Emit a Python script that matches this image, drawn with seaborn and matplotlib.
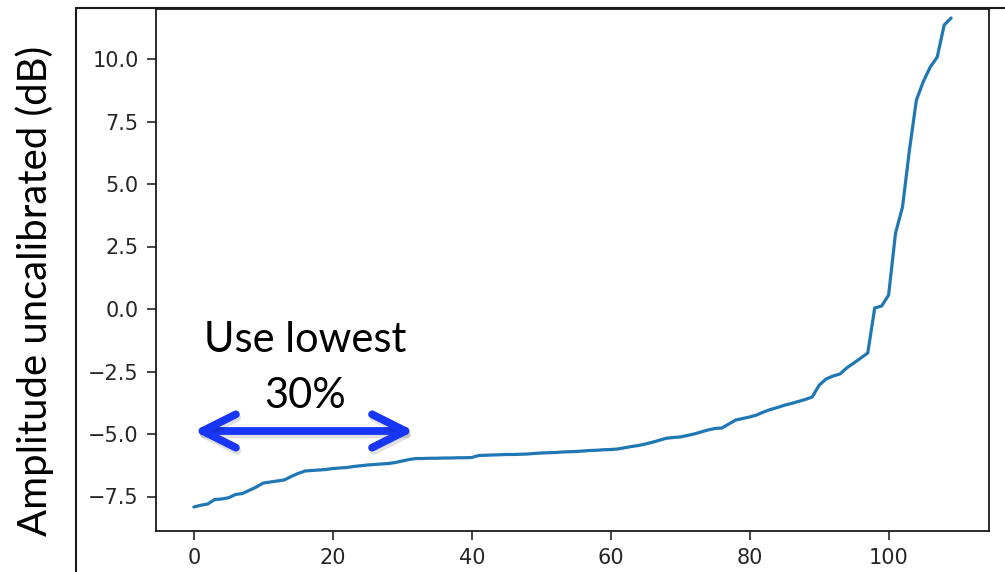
import matplotlib
matplotlib.use("Agg")
import matplotlib.pyplot as plt
import matplotlib.patheffects as pe
from matplotlib.lines import Line2D
import numpy as np
import pandas as pd
import seaborn as sns

# ---- data ----
amplitude_db = [
    -7.92, -7.85, -7.80, -7.62, -7.60, -7.55, -7.42, -7.38, -7.25, -7.12,
    -6.96, -6.92, -6.88, -6.84, -6.70, -6.58, -6.48, -6.46, -6.44, -6.42,
    -6.38, -6.36, -6.34, -6.30, -6.27, -6.24, -6.22, -6.20, -6.18, -6.14,
    -6.08, -6.02, -5.98, -5.98, -5.97, -5.97, -5.96, -5.96, -5.95, -5.95,
    -5.94, -5.86, -5.85, -5.84, -5.83, -5.82, -5.82, -5.81, -5.80, -5.78,
    -5.76, -5.75, -5.74, -5.72, -5.71, -5.70, -5.68, -5.66, -5.65, -5.63,
    -5.62, -5.60, -5.55, -5.50, -5.46, -5.40, -5.33, -5.25, -5.17, -5.14,
    -5.12, -5.06, -5.00, -4.92, -4.84, -4.78, -4.76, -4.60, -4.44, -4.38,
    -4.32, -4.24, -4.12, -4.02, -3.94, -3.85, -3.78, -3.70, -3.62, -3.52,
    -3.05, -2.80, -2.68, -2.60, -2.35, -2.16, -1.96, -1.76, 0.04, 0.12,
    0.56, 3.04, 4.08, 6.36, 8.36, 9.10, 9.68, 10.08, 11.36, 11.64,
]
index = list(range(len(amplitude_db)))
y_label = "Amplitude uncalibrated (dB)"
note_line1 = "Use lowest"
note_line2 = "30%"
arrow_span = [0.0, 31.7]
arrow_level = -4.88

df = pd.DataFrame({"index": index, "amp": amplitude_db})

sns.set_style("ticks")
plt.rcParams["font.family"] = ["DejaVu Sans"]

W, H = 1005, 572
fig = plt.figure(figsize=(W / 100, H / 100), dpi=100)
ax = fig.add_axes([156 / W, 1 - 531 / H, (989 - 156) / W, (531 - 9) / H])

sns.lineplot(data=df, x="index", y="amp", ax=ax, color="#1f77b4", linewidth=2.3)

ax.set_xlim(-5.45, 114.45)
ax.set_ylim(-8.88, 12.0)
ax.set_xticks([0, 20, 40, 60, 80, 100])
ax.set_yticks([-7.5, -5.0, -2.5, 0.0, 2.5, 5.0, 7.5, 10.0])
ax.set_yticklabels(["\u22127.5", "\u22125.0", "\u22122.5", "0.0", "2.5", "5.0", "7.5", "10.0"])
ax.tick_params(axis="both", labelsize=15, length=6.5, width=1.2, colors="#262626",
               direction="out", pad=6)
for s in ax.spines.values():
    s.set_visible(True)
    s.set_color("#1a1a1a")
    s.set_linewidth(1.3)

ax.set_xlabel("")
ax.set_ylabel(y_label, family=["Lato", "DejaVu Sans"], fontsize=28.8, color="black")
ax.yaxis.set_label_coords((54 - 156) / (989 - 156), 1 - (291 - 9) / (531 - 9))

# annotation arrow with soft shadow
ax.annotate("", xy=(arrow_span[0], arrow_level), xytext=(arrow_span[1], arrow_level),
            arrowprops=dict(arrowstyle="<->,head_length=2.4,head_width=1.2",
                            mutation_scale=10,
                            color="#1836f5", lw=5.6, capstyle="round", joinstyle="round",
                            shrinkA=0, shrinkB=0,
                            path_effects=[pe.SimpleLineShadow(offset=(1, -2.5), alpha=0.12,
                                                              shadow_color="black"),
                                          pe.Normal()]))
ax.text(16.0, -1.72, note_line1, ha="center", va="baseline", fontsize=30,
        family=["Lato", "DejaVu Sans"], color="black")
ax.text(16.0, -3.96, note_line2, ha="center", va="baseline", fontsize=30,
        family=["Lato", "DejaVu Sans"], color="black")

# outer frame lines of the slide
fig.add_artist(Line2D([76 / W, 76 / W], [0, 1 - 8 / H], transform=fig.transFigure,
                      color="#1a1a1a", lw=1.5))
fig.add_artist(Line2D([76 / W, 1], [1 - 8 / H, 1 - 8 / H], transform=fig.transFigure,
                      color="#1a1a1a", lw=1.5))

fig.savefig("out.png", dpi=100)
